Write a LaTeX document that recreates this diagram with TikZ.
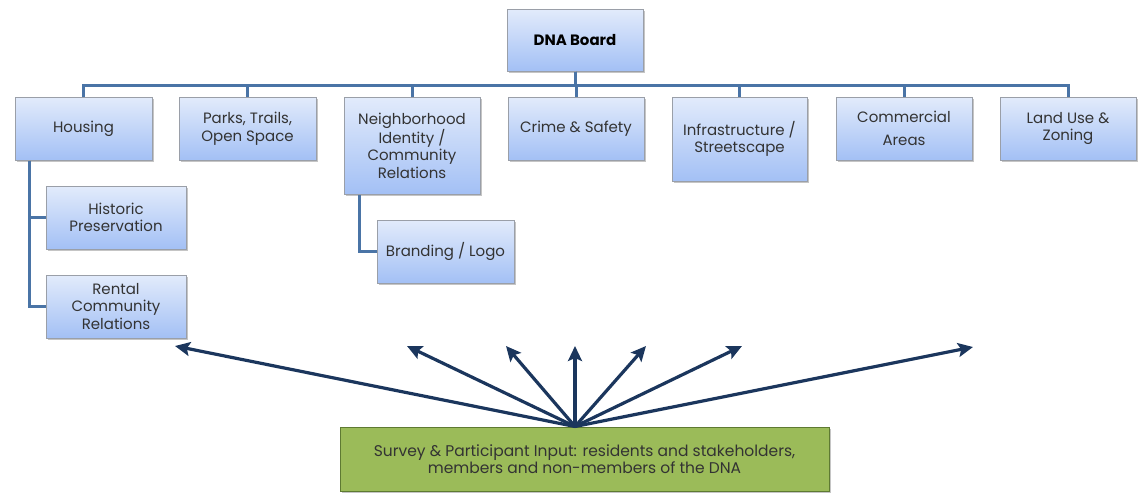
\documentclass[tikz,border=0pt]{standalone}
\usepackage{fontspec}
\setmainfont{Poppins}
\usetikzlibrary{shadows,arrows.meta,calc}
\definecolor{boxtop}{HTML}{E2EBFB}
\definecolor{boxbot}{HTML}{A3C0F5}
\definecolor{boxline}{HTML}{9A9FA8}
\definecolor{conn}{HTML}{4A74A6}
\definecolor{arrowc}{HTML}{1B365D}
\definecolor{greenfill}{HTML}{9BBB59}
\definecolor{greenline}{HTML}{5E7A32}
\definecolor{txt}{HTML}{333333}
\tikzset{
  orgbox/.style={draw=boxline, line width=1pt, top color=boxtop, bottom color=boxbot,
    drop shadow={shadow xshift=2pt, shadow yshift=-2pt, fill=black!45, opacity=0.5},
    align=center, font=\fontsize{15}{17.5}\selectfont, text=txt, inner sep=2pt},
  conline/.style={draw=conn, line width=3pt},
  inarrow/.style={draw=arrowc, line width=3.2pt, -{Stealth[length=15pt,width=14pt,inset=3pt]}},
  surveybox/.style={draw=greenline, line width=1pt, fill=greenfill,
    drop shadow={shadow xshift=2pt, shadow yshift=-2pt, fill=black!45, opacity=0.5},
    align=center, font=\fontsize{15.5}{17}\selectfont, text=txt}
}
\begin{document}
\begin{tikzpicture}[x=1pt,y=-1pt]
\useasboundingbox (0,0) rectangle (1141,493);
% nodes
\node[orgbox, minimum width=136pt, minimum height=62pt, font=\fontsize{15}{17.5}\selectfont\bfseries, text=black] (board) at (575,40) {DNA Board};
\node[orgbox, minimum width=137pt, minimum height=63pt] (housing) at (83.5,128.5) {Housing};
\node[orgbox, minimum width=137pt, minimum height=63pt] (parks) at (247.5,128.5) {Parks, Trails,\\Open Space};
\node[orgbox, minimum width=136pt, minimum height=97pt] (neigh) at (412,145.5) {Neighborhood\\Identity /\\Community\\Relations};
\node[orgbox, minimum width=136pt, minimum height=63pt] (crime) at (576,128.5) {Crime \& Safety};
\node[orgbox, minimum width=135pt, minimum height=84pt] (infra) at (739.5,139) {Infrastructure /\\Streetscape};
\node[orgbox, minimum width=136pt, minimum height=63pt] (comm) at (904,128.5) {Commercial\\[6pt]Areas};
\node[orgbox, minimum width=136pt, minimum height=63pt] (land) at (1068,128.5) {Land Use \&\\Zoning};
\node[orgbox, minimum width=140pt, minimum height=63pt] (hist) at (116,217.5) {Historic\\Preservation};
\node[orgbox, minimum width=140pt, minimum height=63pt] (rental) at (116,306.5) {Rental\\Community\\Relations};
\node[orgbox, minimum width=137pt, minimum height=63pt] (brand) at (445.5,251.5) {Branding / Logo};
\node[surveybox, minimum width=489pt, minimum height=64pt] (survey) at (584.5,459) {Survey \& Participant Input: residents and stakeholders,\\members and non-members of the DNA};
% connectors
\foreach \c in {housing,parks,neigh,crime,infra,comm,land}
  \draw[conline] (board.south) -- ++(0,14) -| (\c.north);
\draw[conline] ([xshift=15pt]housing.south west) |- (hist.west);
\draw[conline] ([xshift=15pt]housing.south west) |- (rental.west);
\draw[conline] ([xshift=16pt]neigh.south west) |- (brand.west);
% arrows
\coordinate (src) at ([xshift=-9.5pt]survey.north);
\coordinate (t1) at (175,346);
\coordinate (t2) at (407,346);
\coordinate (t3) at (506,346);
\coordinate (t4) at (575,346);
\coordinate (t5) at (646,346);
\coordinate (t6) at (742,346);
\coordinate (t7) at (973,347);
\foreach \t in {t1,t2,t3,t4,t5,t6,t7}
  \draw[inarrow] (src) -- (\t);
\end{tikzpicture}
\end{document}
